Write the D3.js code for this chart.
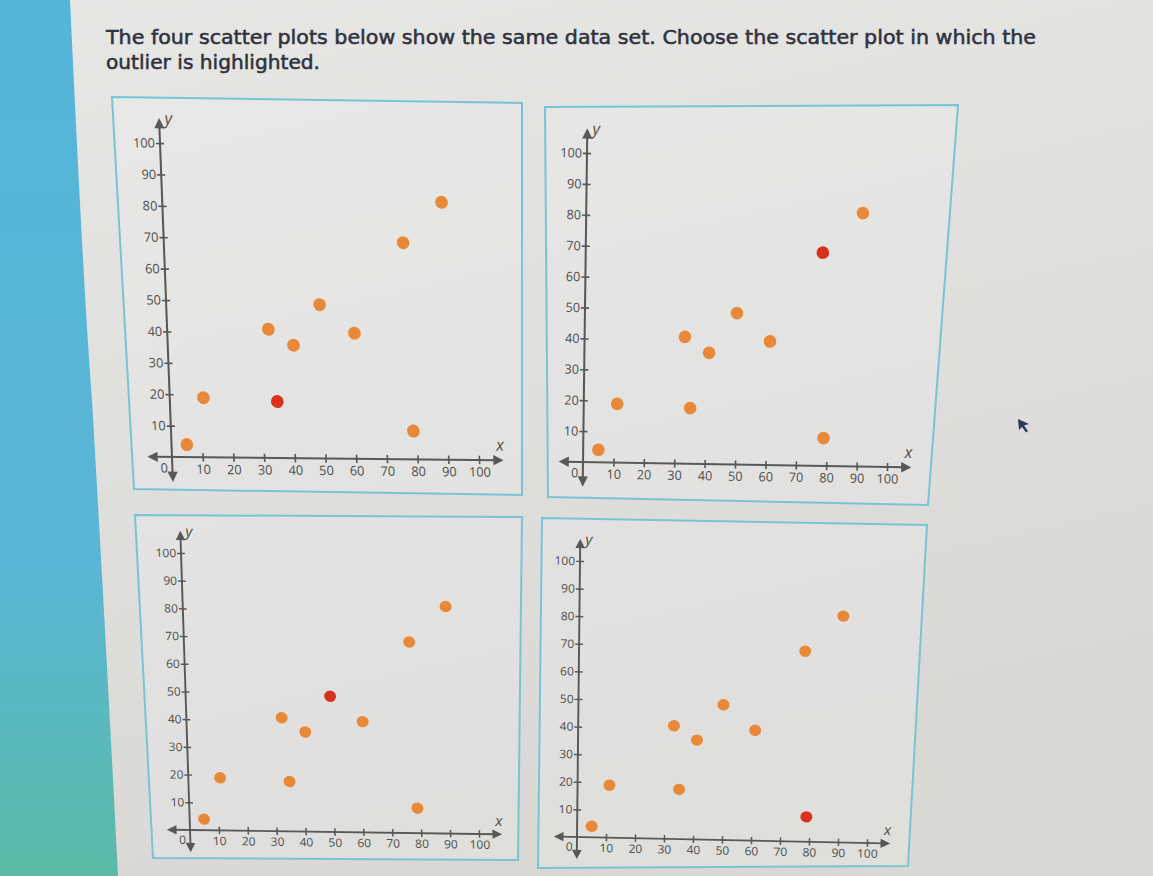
<!DOCTYPE html>
<html>
<head>
<meta charset="utf-8">
<script src="https://cdn.jsdelivr.net/npm/d3@7"></script>
<style>
  body { margin: 0; background: #e2e2e0; overflow: hidden; }
  svg { display: block; }
</style>
</head>
<body>
<svg id="chart" width="1153" height="876"></svg>
<script>
/* data: one data set, drawn four times */
var xValues = [5, 11, 35, 33, 41, 50, 61, 78, 91, 79];
var yValues = [4, 19, 18, 41, 36, 49, 40, 69, 82, 9];
var highlighted = [2, 7, 5, 9];   // index of the red point in each panel
var xTicks = [10, 20, 30, 40, 50, 60, 70, 80, 90, 100];
var yTicks = [10, 20, 30, 40, 50, 60, 70, 80, 90, 100];
var question = ["The four scatter plots below show the same data set. Choose the scatter plot in which the",
                "outlier is highlighted."];

/* layout of the photographed screen: panel frames, origin, x=100 and y=100 points */
var panels = [
  { border: [[112,97],[522,103],[522,495],[134,489]], O: [172,457], X: [479,460], Y: [160,143] },
  { border: [[545,107],[958,105],[928,505],[548,497]], O: [583,462], X: [887,467], Y: [587,153] },
  { border: [[135,515],[522,517],[518,860],[153,858]], O: [190,830], X: [479,834], Y: [181,553] },
  { border: [[542,518],[927,525],[908,866],[538,868]], O: [577,837], X: [867,843], Y: [580,561] }
];

var size = 300,
    dotColor = "#e8893a",
    hiColor = "#d8321f",
    axisColor = "#585858",
    labelColor = "#4e4e4e";

var svg = d3.select("#chart");
var defs = svg.append("defs");

/* background */
var bg = defs.append("linearGradient").attr("id", "bg")
    .attr("x1", 0).attr("y1", 0).attr("x2", 0.3).attr("y2", 1);
bg.append("stop").attr("offset", 0).attr("stop-color", "#e7e7e5");
bg.append("stop").attr("offset", 1).attr("stop-color", "#d9d8d5");
svg.append("rect").attr("width", 1153).attr("height", 876).attr("fill", "url(#bg)");

var side = defs.append("linearGradient").attr("id", "side")
    .attr("x1", 0).attr("y1", 0).attr("x2", 0).attr("y2", 1);
side.append("stop").attr("offset", 0).attr("stop-color", "#55b5da");
side.append("stop").attr("offset", 0.65).attr("stop-color", "#5ab6d4");
side.append("stop").attr("offset", 0.8).attr("stop-color", "#59b8c2");
side.append("stop").attr("offset", 1).attr("stop-color", "#5cbaa6");
svg.append("path")
    .attr("d", "M0,0 L70,0 Q84,300 92,400 Q106,640 118,876 L0,876 Z")
    .attr("fill", "url(#side)");

/* question text */
var title = svg.append("g")
    .attr("font-family", "DejaVu Sans, Verdana, sans-serif")
    .attr("font-size", 20)
    .attr("fill", "#30323e")
    .attr("stroke", "#30323e")
    .attr("stroke-width", 0.55);
title.append("text").attr("x", 106).attr("y", 44)
    .attr("textLength", 930).attr("lengthAdjust", "spacingAndGlyphs")
    .text(question[0]);
title.append("text").attr("x", 106).attr("y", 69)
    .attr("textLength", 214).attr("lengthAdjust", "spacingAndGlyphs")
    .text(question[1]);

/* scales in local panel coordinates */
var x = d3.scaleLinear().domain([0, 100]).range([0, size]);
var y = d3.scaleLinear().domain([0, 100]).range([size, 0]);

var points = xValues.map(function(d, i) { return { x: d, y: yValues[i], i: i }; });

function arrow(g, tip, dir) {
  // dir: unit vector pointing where the arrow points
  var L = 10, W = 5;
  var bx = tip[0] - dir[0] * L, by = tip[1] - dir[1] * L;
  var px = -dir[1] * W, py = dir[0] * W;
  g.append("path")
    .attr("d", "M" + tip[0] + "," + tip[1] + "L" + (bx + px) + "," + (by + py) +
               "L" + (bx - px) + "," + (by - py) + "Z")
    .attr("fill", axisColor);
}

panels.forEach(function(p, k) {
  svg.append("polygon")
    .attr("points", p.border.map(function(c) { return c.join(","); }).join(" "))
    .attr("fill", "rgba(238,240,240,0.3)")
    .attr("stroke", "#79c4d4")
    .attr("stroke-width", 2);

  var ex = [(p.X[0] - p.O[0]) / size, (p.X[1] - p.O[1]) / size],
      ey = [(p.Y[0] - p.O[0]) / size, (p.Y[1] - p.O[1]) / size];

  var g = svg.append("g")
    .attr("transform", "matrix(" + [ex[0], ex[1], -ey[0], -ey[1], p.Y[0], p.Y[1]].join(",") + ")")
    .attr("font-family", "Open Sans, sans-serif");

  /* axis lines with arrowheads at both ends */
  g.append("line")
    .attr("x1", x(-6)).attr("x2", x(106)).attr("y1", y(0)).attr("y2", y(0))
    .attr("stroke", axisColor).attr("stroke-width", 2);
  g.append("line")
    .attr("x1", x(0)).attr("x2", x(0)).attr("y1", y(-6)).attr("y2", y(107))
    .attr("stroke", axisColor).attr("stroke-width", 2);
  arrow(g, [x(-8), y(0)], [-1, 0]);
  arrow(g, [x(108), y(0)], [1, 0]);
  arrow(g, [x(0), y(108)], [0, -1]);
  arrow(g, [x(0), y(-8)], [0, 1]);

  var xAxis = d3.axisBottom(x).tickValues(xTicks).tickSize(4).tickPadding(3);
  var yAxis = d3.axisLeft(y).tickValues(yTicks).tickSize(4).tickPadding(1);

  var xg = g.append("g").attr("transform", "translate(0," + y(0) + ")").call(xAxis);
  var yg = g.append("g").call(yAxis);
  [xg, yg].forEach(function(a) {
    a.select(".domain").remove();
    a.selectAll("text").attr("font-family", "Open Sans, sans-serif")
      .attr("font-size", 12.5).attr("fill", labelColor);
    a.selectAll(".tick line").attr("stroke", axisColor).attr("stroke-width", 1.6);
  });
  xg.selectAll(".tick line").attr("y1", -4);
  yg.selectAll(".tick line").attr("x1", 4);

  g.append("text").attr("x", x(0) - 8).attr("y", y(0) + 15)
    .attr("text-anchor", "middle").attr("font-size", 12.5).attr("fill", labelColor).text("0");
  g.append("text").attr("x", x(107)).attr("y", y(0) - 9)
    .attr("text-anchor", "middle").attr("font-size", 16).attr("font-style", "italic")
    .attr("fill", labelColor).text("x");
  g.append("text").attr("x", x(0) + 9).attr("y", y(106))
    .attr("text-anchor", "middle").attr("font-size", 16).attr("font-style", "italic")
    .attr("fill", labelColor).text("y");

  g.selectAll("circle.dot")
    .data(points)
    .enter().append("circle")
      .attr("class", "dot")
      .attr("cx", function(d) { return x(d.x); })
      .attr("cy", function(d) { return y(d.y); })
      .attr("r", 6.2)
      .attr("fill", function(d) { return d.i === highlighted[k] ? hiColor : dotColor; });
});

/* mouse pointer left on the screen */
svg.append("path")
  .attr("d", "M1018,419 L1029,424 L1024,425.5 L1028,431 L1026,432.5 L1022,427 L1019,430 Z")
  .attr("fill", "#2b3a57");
</script>
</body>
</html>
